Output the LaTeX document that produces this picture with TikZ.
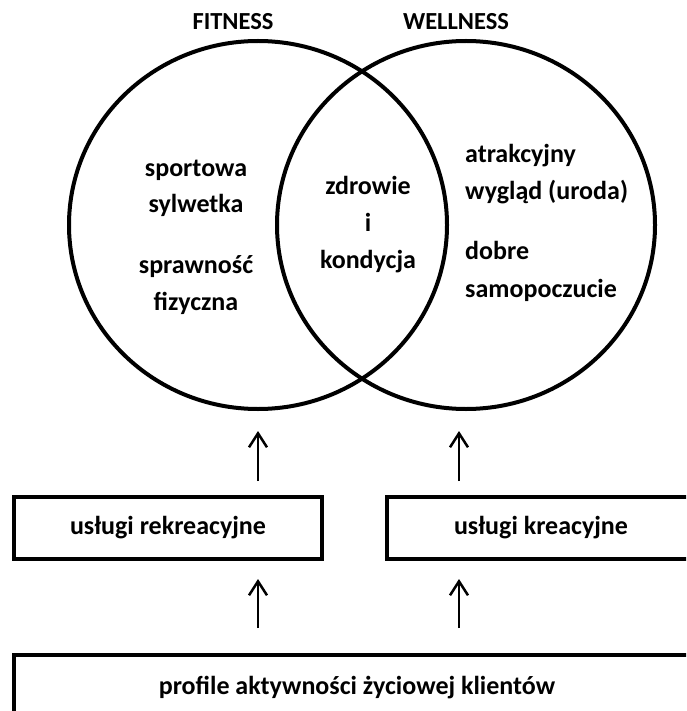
\documentclass[tikz,border=0pt]{standalone}
\usepackage{fontspec}
\setmainfont{Carlito}
\usetikzlibrary{shapes.geometric,arrows.meta}
\begin{document}
\begin{tikzpicture}[x=1pt,y=-1pt,
  circ/.style={ellipse, draw, line width=4pt, minimum width=378pt, minimum height=368pt, inner sep=0pt},
  ttl/.style={font=\fontsize{24.5}{29}\selectfont\bfseries, anchor=base, inner sep=0pt},
  txt/.style={font=\fontsize{26}{31}\selectfont\bfseries, anchor=base, inner sep=0pt},
  txtl/.style={txt, anchor=base west},
  boxn/.style={rectangle, draw, line width=4pt, minimum height=62pt, inner sep=0pt, font=\fontsize{26}{31}\selectfont\bfseries},
  arr/.style={line width=2.5pt, -{Straight Barb[length=14pt,width=18pt]}}]
\useasboundingbox (0,0) rectangle (686,711);
\clip (0,0) rectangle (686,711);
% titles
\node[ttl] (tfit) at (233,30) {FITNESS};
\node[ttl] (twel) at (456,30) {WELLNESS};
% circles
\node[circ] (fit) at (258,225) {};
\node[circ] (wel) at (466,225) {};
% left texts
\node[txt] (l1) at (196,177) {sportowa};
\node[txt] (l2) at (196,213) {sylwetka};
\node[txt] (l3) at (196,273) {sprawność};
\node[txt] (l4) at (196,310) {fizyczna};
% center texts
\node[txt] (c1) at (368,195) {zdrowie};
\node[txt] (c2) at (368,232) {i};
\node[txt] (c3) at (368,268) {kondycja};
% right texts
\node[txtl] (r1) at (465,163) {atrakcyjny};
\node[txtl] (r2) at (465,200) {wygląd (uroda)};
\node[txtl] (r3) at (465,259) {dobre};
\node[txtl] (r4) at (465,297) {samopoczucie};
% boxes
\node[boxn, minimum width=308pt] (rek) at (168,528) {usługi rekreacyjne};
\node[boxn, minimum width=308pt] (kre) at (541,528) {usługi kreacyjne};
\node[boxn, minimum width=686pt, minimum height=66pt] (prof) at (357,688) {profile aktywności życiowej klientów};
% arrows
\coordinate (wb) at ([xshift=-7pt]wel.south);
\draw[arr, shorten <=14pt, shorten >=20pt] (rek.north -| fit.south) -- (fit.south);
\draw[arr, shorten <=14pt, shorten >=20pt] (kre.north -| wb) -- (wb);
\draw[arr, shorten <=25pt, shorten >=18pt] (prof.north -| fit.south) -- (rek.south -| fit.south);
\draw[arr, shorten <=25pt, shorten >=18pt] (prof.north -| wb) -- (kre.south -| wb);
\end{tikzpicture}
\end{document}
